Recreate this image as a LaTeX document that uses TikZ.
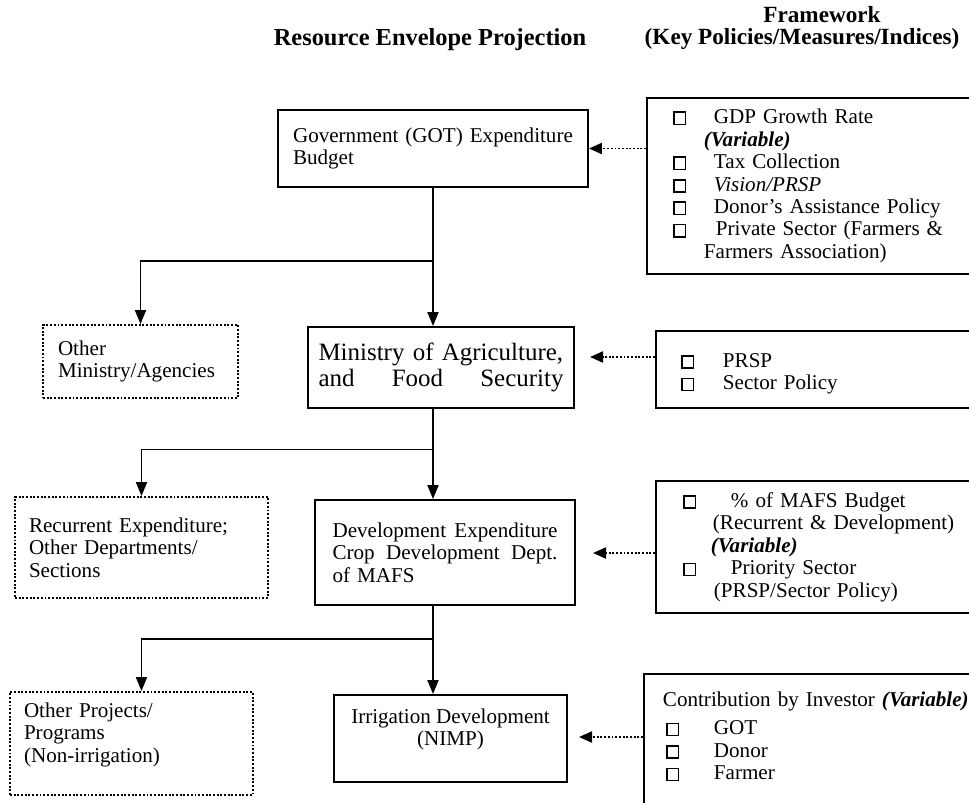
\documentclass[tikz,border=0pt]{standalone}
\usepackage{fontspec}
\setmainfont{Liberation Serif}
\usetikzlibrary{arrows.meta,calc}

\newcommand{\cbox}{{\setlength{\fboxsep}{0pt}\setlength{\fboxrule}{0.9pt}\fbox{\rule{0pt}{0.21cm}\rule{0.2cm}{0pt}}}}
\newcommand{\chk}[1]{\makebox[#1][l]{\cbox}}
\newcommand{\vartxt}{\textbf{\textit{(Variable)}}}

\begin{document}
\begin{tikzpicture}[x=0.02cm,y=-0.02cm,
        font=\fontsize{12}{12.8}\selectfont,
        main/.style={draw,line width=1.1pt,align=left,inner ysep=0pt},
        other/.style={draw,densely dotted,line width=1.1pt,align=left,inner ysep=0pt},
        frame/.style={draw,line width=1.1pt,align=left,anchor=north west,inner ysep=0pt},
        flow/.style={line width=1.1pt,-{Triangle[length=0.28cm,width=0.22cm]}},
        feed/.style={line width=1.1pt,densely dotted,-{Triangle[length=0.26cm,width=0.22cm]}},
        head/.style={font=\fontsize{13.2}{14}\selectfont\bfseries,align=center,inner sep=1pt}]
    \useasboundingbox (0,0) rectangle (969,803);

    % headings
    \node[head,font=\fontsize{13.9}{14.5}\selectfont\bfseries] (t_res) at (430,40) {Resource Envelope Projection};
    \node[head] (t_fw)  at (822,15) {Framework};
    \node[head] (t_key) at (802,39) {(Key Policies/Measures/Indices)};

    % resource envelope column
    \node[main,minimum height=1.54cm,text width=5.6cm,inner xsep=0.3cm] (gov) at (433,148.5)
        {Government (GOT) Expenditure\\Budget};
    \node[main,minimum height=1.62cm,text width=4.9cm,inner xsep=0.21cm,
          font=\fontsize{14.2}{14.8}\selectfont] (mafs) at (441,367.5)
        {Ministry of Agriculture,\\and\hfill Food\hfill Security};
    \node[main,minimum height=2.1cm,text width=4.5cm,inner xsep=0.35cm] (dev) at (445,552.5)
        {Development\hfill Expenditure\\Crop\hfill Development\hfill Dept.\\of MAFS};
    \node[main,minimum width=4.66cm,minimum height=1.74cm,align=center] (irr) at (450.5,738.5)
        {Irrigation Development\\(NIMP)\\ \mbox{}};

    % other allocations
    \node[other,minimum height=1.46cm,text width=3.3cm,inner xsep=0.3cm] (oth_1) at (140.5,361.5)
        {Other\\Ministry/Agencies};
    \node[other,minimum height=2.02cm,text width=4.5cm,inner xsep=0.28cm] (oth_2) at (141.5,547.5)
        {Recurrent Expenditure;\\Other Departments/\\Sections};
    \node[other,minimum height=2.06cm,text width=4.3cm,inner xsep=0.28cm] (oth_3) at (131.5,743.5)
        {Other Projects/\\Programs\\(Non-irrigation)\\ \mbox{}};

    % framework boxes
    \node[frame,minimum height=3.52cm,text width=6cm,inner xsep=0.52cm] (fw_1) at (646,97)
        {\chk{0.82cm}GDP Growth Rate\\
         \hspace*{0.62cm}\vartxt\\
         \chk{0.82cm}Tax Collection\\
         \chk{0.82cm}\textit{Vision/PRSP}\\
         \chk{0.82cm}Donor's Assistance Policy\\
         \chk{0.86cm}Private Sector (Farmers \&\\
         \hspace*{0.62cm}Farmers Association)};
    \node[frame,minimum height=1.54cm,text width=6cm,inner xsep=0.5cm] (fw_2) at (655,330)
        {\mbox{}\\
         \chk{0.84cm}PRSP\\
         \chk{0.84cm}Sector Policy};
    \node[frame,minimum height=2.64cm,text width=6cm,inner xsep=0.54cm] (fw_3) at (655,480)
        {\chk{0.96cm}\% of MAFS Budget\\
         \hspace*{0.6cm}(Recurrent \& Development)\\
         \hspace*{0.56cm}\vartxt\\
         \chk{0.96cm}Priority Sector\\
         \hspace*{0.62cm}(PRSP/Sector Policy)};
    \node[frame,minimum height=2.92cm,text width=6.2cm,inner xsep=0.38cm] (fw_4) at (643,673)
        {Contribution by Investor \vartxt\\[0.12cm]
         \hspace*{0.06cm}\chk{0.96cm}GOT\\
         \hspace*{0.06cm}\chk{0.96cm}Donor\\
         \hspace*{0.06cm}\chk{0.96cm}Farmer\\ \mbox{}};

    % arrow tips of the framework links
    \coordinate (tip_2) at (590,357);
    \coordinate (tip_3) at (593,553);
    \coordinate (tip_4) at (579,737);

    % budget flow
    \coordinate (split_1) at ($(gov.south)!0.53!(gov.south |- mafs.north)$);
    \coordinate (split_2) at ($(gov.south |- mafs.south)!0.45!(gov.south |- dev.north)$);
    \coordinate (split_3) at ($(gov.south |- dev.south)!0.37!(gov.south |- irr.north)$);
    \draw[flow] (gov.south) -- (gov.south |- mafs.north);
    \draw[flow] (split_1) -| (oth_1.north);
    \draw[flow] (gov.south |- mafs.south) -- (gov.south |- dev.north);
    \draw[flow] (split_2) -| (oth_2.north);
    \draw[flow] (gov.south |- dev.south) -- (gov.south |- irr.north);
    \draw[flow] (split_3) -| (oth_2.north |- oth_3.north);

    % framework links
    \draw[feed] (fw_1.west |- gov.east) -- (gov.east);
    \draw[feed] (fw_2.west |- tip_2) -- (tip_2);
    \draw[feed] (fw_3.west |- tip_3) -- (tip_3);
    \draw[feed] (fw_4.west |- tip_4) -- (tip_4);
\end{tikzpicture}
\end{document}
